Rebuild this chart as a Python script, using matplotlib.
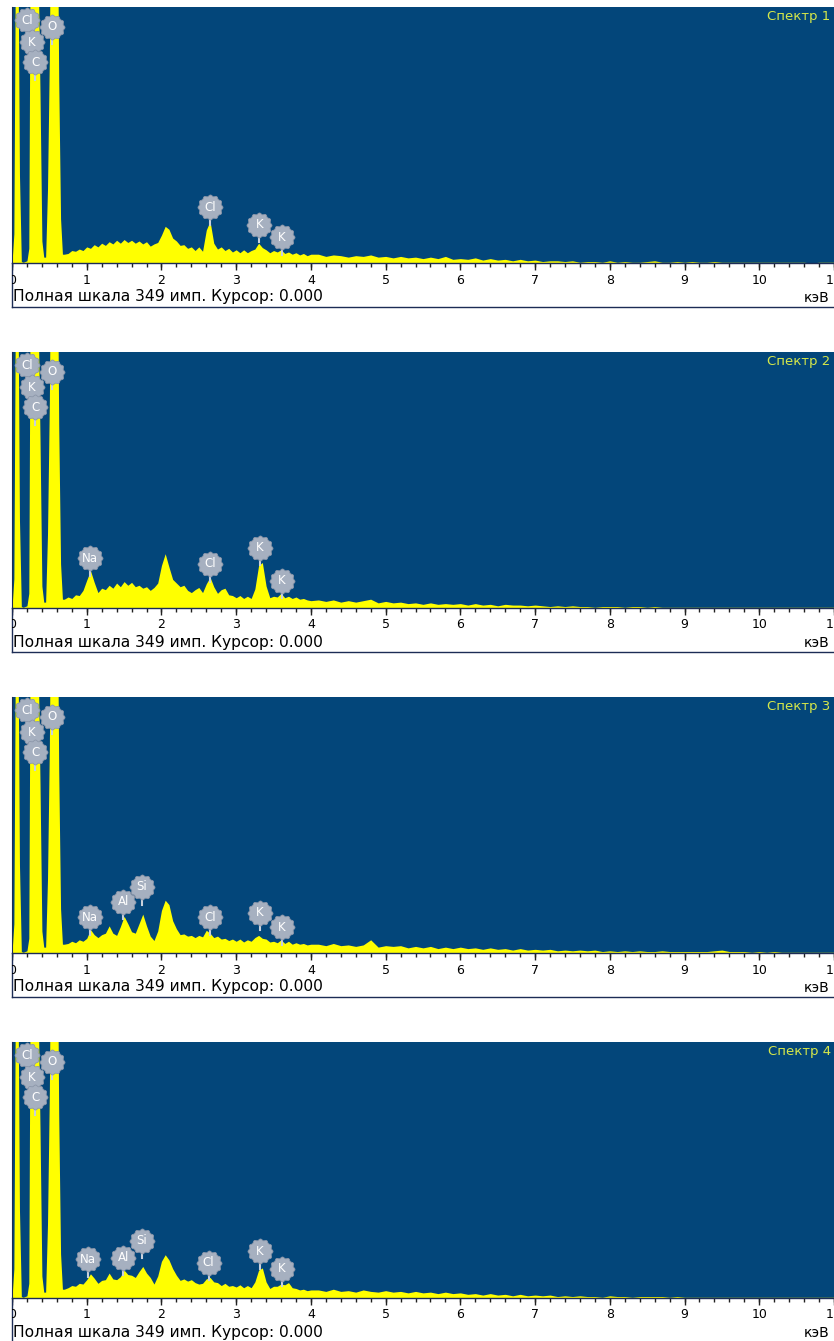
import numpy as np
import matplotlib.pyplot as plt
from matplotlib.path import Path

# energy channels, keV (fine near the C/O peaks, coarser at high energy)
energy = np.round(np.concatenate([np.arange(0.0, 0.7001, 0.025),
                                  np.arange(0.75, 4.0001, 0.05),
                                  np.arange(4.1, 11.0001, 0.1)]), 3)

# 0 - 0.7 keV, same in all four spectra (C and O peaks go off scale)
low_counts = [0, 40, 500, 500, 120, 2, 1, 2, 3, 20, 600, 600, 600, 600, 400,
              230, 30, 8, 8, 100, 280, 600, 600, 600, 600, 250, 60, 12, 12]

# 0.75 - 4.0 keV
mid_1 = [13, 17, 16, 19, 17, 22, 20, 25, 22, 27, 24, 29, 26, 31, 27, 32, 28, 31, 27, 30,
         26, 29, 23, 26, 28, 38, 50, 46, 34, 30, 24, 25, 20, 22, 17, 22, 16, 45, 57, 27,
         19, 22, 17, 20, 15, 18, 14, 18, 14, 17, 19, 27, 21, 18, 14, 17, 15, 18, 13, 15,
         12, 14, 11, 13, 10, 12]
mid_2 = [15, 13, 18, 17, 24, 38, 51, 35, 21, 27, 25, 31, 27, 34, 29, 36, 31, 35, 29, 31,
         27, 29, 24, 28, 34, 58, 74, 56, 39, 34, 29, 31, 24, 21, 25, 28, 21, 33, 42, 29,
         20, 25, 27, 18, 17, 14, 17, 13, 16, 13, 26, 58, 62, 30, 14, 16, 15, 20, 14, 16,
         13, 15, 12, 13, 11, 10]
mid_3 = [13, 16, 14, 18, 16, 20, 32, 25, 21, 25, 27, 37, 27, 24, 36, 50, 40, 29, 27, 40,
         53, 37, 23, 17, 30, 58, 72, 66, 44, 33, 25, 26, 23, 24, 21, 24, 22, 31, 27, 21,
         23, 19, 20, 17, 19, 16, 19, 15, 18, 16, 21, 24, 20, 19, 15, 16, 14, 18, 13, 16,
         12, 14, 12, 13, 11, 12]
mid_4 = [14, 17, 16, 20, 19, 25, 33, 27, 20, 24, 25, 34, 26, 25, 29, 38, 32, 31, 28, 36,
         43, 34, 28, 19, 30, 50, 59, 52, 40, 31, 24, 26, 23, 25, 21, 19, 20, 26, 28, 22,
         21, 17, 20, 16, 17, 15, 18, 14, 17, 14, 22, 38, 41, 22, 13, 16, 16, 19, 18, 21,
         14, 13, 11, 12, 10, 11]

# 4.1 - 11.0 keV
high_1 = [12, 9, 11, 10, 8, 10, 9, 11, 8, 9, 7, 9, 7, 8, 6, 8, 6, 9, 5, 6,
          5, 7, 4, 6, 4, 5, 3, 5, 3, 4, 2, 3, 3, 2, 3, 1, 2, 2, 1, 3,
          1, 2, 1, 1, 2, 3, 1, 1, 2, 1, 2, 1, 1, 2, 1, 1, 1, 1, 1, 1,
          1, 1, 1, 1, 1, 1, 0, 1, 1, 1]
high_2 = [11, 9, 11, 8, 10, 8, 10, 12, 7, 9, 7, 8, 6, 7, 5, 7, 5, 6, 5, 6,
          4, 6, 4, 5, 3, 5, 4, 4, 3, 4, 3, 2, 3, 2, 3, 2, 2, 1, 2, 2,
          2, 1, 2, 2, 1, 2, 1, 1, 1, 1, 1, 1, 1, 1, 1, 1, 1, 1, 1, 1,
          1, 1, 1, 1, 1, 1, 1, 1, 1, 1]
high_3 = [12, 10, 13, 10, 11, 9, 11, 18, 8, 10, 9, 10, 7, 9, 7, 9, 6, 8, 6, 8,
          6, 7, 5, 7, 5, 6, 4, 6, 4, 5, 4, 5, 3, 4, 3, 4, 3, 4, 2, 3,
          2, 3, 2, 3, 2, 2, 3, 2, 2, 2, 2, 2, 2, 3, 4, 2, 2, 2, 1, 2,
          1, 2, 1, 1, 1, 1, 1, 1, 1, 1]
high_4 = [11, 9, 12, 9, 10, 8, 11, 9, 8, 10, 8, 9, 7, 9, 7, 8, 6, 8, 6, 7,
          5, 6, 4, 6, 4, 5, 3, 5, 3, 4, 3, 4, 2, 3, 2, 3, 2, 2, 1, 3,
          2, 2, 1, 2, 2, 2, 2, 1, 2, 1, 1, 1, 1, 1, 1, 1, 1, 1, 1, 1,
          1, 1, 1, 1, 1, 1, 1, 1, 1, 1]

spectra = [low_counts + mid_1 + high_1,
           low_counts + mid_2 + high_2,
           low_counts + mid_3 + high_3,
           low_counts + mid_4 + high_4]

# element markers: (label, keV, height in counts)
top_marks = [("Cl", 0.20, 331), ("O", 0.54, 322), ("K", 0.27, 301), ("C", 0.31, 274)]
marks_1 = [("Cl", 2.65, 76), ("K", 3.31, 52), ("K", 3.61, 35)]
marks_2 = [("Na", 1.04, 68), ("Cl", 2.65, 60), ("K", 3.32, 82), ("K", 3.61, 37)]
marks_3 = [("Na", 1.04, 49), ("Al", 1.49, 70), ("Si", 1.74, 90), ("Cl", 2.65, 49),
           ("K", 3.32, 55), ("K", 3.61, 35)]
marks_4 = [("Na", 1.02, 53), ("Al", 1.49, 55), ("Si", 1.74, 78), ("Cl", 2.63, 48),
           ("K", 3.32, 64), ("K", 3.61, 40)]
marks = [marks_1, marks_2, marks_3, marks_4]

full_scale = 349
x_max = 11.0

W, H = 834, 1341
BLUE = '#03467A'
YELLOW = '#FFFF00'
GREY = '#A6B0C0'
DARK = '#1C2C55'

theta = np.linspace(0, 2 * np.pi, 121)
rad = 1 + 0.06 * np.cos(12 * theta)
badge = Path(np.column_stack([rad * np.cos(theta), rad * np.sin(theta)]), closed=True)

fig = plt.figure(figsize=(W / 100, H / 100), dpi=100)
fig.patch.set_facecolor('white')

for k in range(4):
    top = 7 + 345 * k
    ax = fig.add_axes([12 / W, 1 - (top + 256) / H, 822 / W, 256 / H])
    ax.set_facecolor(BLUE)
    ax.fill_between(energy, spectra[k], 0, color=YELLOW, lw=0, zorder=2)
    ax.set_xlim(0, x_max)
    ax.set_ylim(0, full_scale)
    ax.set_xticks([])
    ax.set_yticks([])
    for s in ax.spines.values():
        s.set_visible(False)
    ax.spines['left'].set_visible(True)
    ax.spines['left'].set_color(DARK)

    for lab, x, y in top_marks + marks[k]:
        ax.plot([x, x], [y, y - 24], color='#C9D1DC', lw=1.5, zorder=3)
        ax.plot(x, y, marker=badge, ms=18, mfc=GREY, mec='#8C97AA', mew=0.6,
                ls='none', zorder=4)
        ax.text(x, y, lab, color='white', fontsize=8.5, ha='center', va='center',
                family='DejaVu Sans', zorder=5)

    ax.text(0.996, 0.961, 'Спектр %d' % (k + 1), transform=ax.transAxes,
            ha='right', va='center', color='#D6E84A', fontsize=9.5, family='DejaVu Sans')

    # white scale strip below the spectrum
    sx = fig.add_axes([12 / W, 1 - (top + 300) / H, 822 / W, 44 / H])
    sx.set_xlim(0, x_max)
    sx.set_ylim(44, 0)
    sx.set_xticks([])
    sx.set_yticks([])
    sx.spines['right'].set_visible(False)
    for s in ['left', 'bottom', 'top']:
        sx.spines[s].set_color(DARK)
        sx.spines[s].set_linewidth(1)
    sx.vlines(np.arange(0, x_max + 0.01, 0.2), 0, 4, color='#222222', lw=1)
    sx.vlines(np.arange(0, 12), 0, 7, color='#222222', lw=1)
    for i in range(12):
        sx.text(i, 17, str(i), ha='center', va='center', fontsize=9,
                family='DejaVu Sans', clip_on=True)
    sx.text(0.01, 34, 'Полная шкала 349 имп. Курсор: 0.000', ha='left', va='center',
            fontsize=11.2, family='DejaVu Sans')
    sx.text(x_max - 0.06, 35, 'кэВ', ha='right', va='center', fontsize=10,
            family='DejaVu Sans')

fig.savefig('out.png', dpi=100, facecolor='white')
